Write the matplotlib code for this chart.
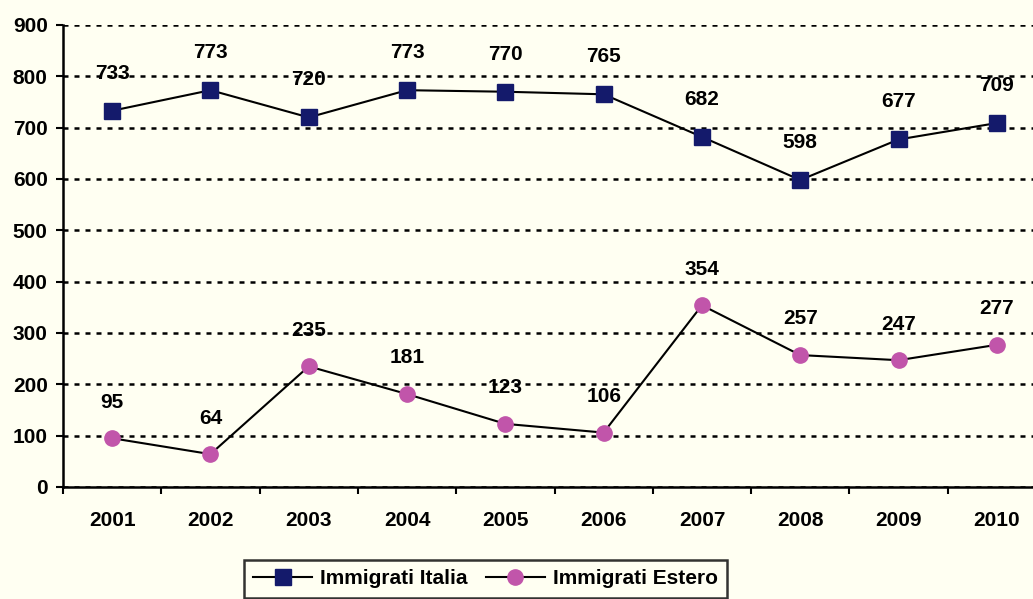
import matplotlib.pyplot as plt
import numpy as np

anni = ['2001', '2002', '2003', '2004', '2005', '2006', '2007', '2008', '2009', '2010']
immigrati_italia = [733, 773, 720, 773, 770, 765, 682, 598, 677, 709]
immigrati_estero = [95, 64, 235, 181, 123, 106, 354, 257, 247, 277]

plt.rcParams['font.family'] = ['Liberation Sans', 'DejaVu Sans']
plt.rcParams['font.weight'] = 'bold'

bg = '#FFFFF2'
fig = plt.figure(figsize=(10.33, 5.99), dpi=100, facecolor=bg)
# l'area del grafico sborda un po' a destra, come nell'originale
ax = fig.add_axes([63 / 1033, 1 - 487 / 599, 983 / 1033, 462 / 599], facecolor=bg)

x = np.arange(len(anni))
ax.plot(x, immigrati_italia, color='black', lw=1.5, marker='s', ms=12,
        mfc='#141A6B', mec='#141A6B', label='Immigrati Italia', zorder=3)
ax.plot(x, immigrati_estero, color='black', lw=1.5, marker='o', ms=11,
        mfc='#C155AA', mec='#C155AA', label='Immigrati Estero', zorder=3)

for xi, v in zip(x, immigrati_italia):
    ax.annotate(str(v), (xi, v), xytext=(0, 27), textcoords='offset points',
                ha='center', va='center', fontsize=15, fontweight='bold')
for xi, v in zip(x, immigrati_estero):
    ax.annotate(str(v), (xi, v), xytext=(0, 26), textcoords='offset points',
                ha='center', va='center', fontsize=15, fontweight='bold')

ax.set_xlim(-0.5, len(anni) - 0.5)
ax.set_ylim(0, 900)
ax.set_yticks(range(0, 901, 100))
ax.set_xticks(x)
ax.set_xticklabels(anni)
ax.set_xticks(np.arange(-0.5, len(anni), 1), minor=True)
ax.tick_params(axis='x', which='major', length=0, pad=17, labelsize=15)
ax.tick_params(axis='x', which='minor', length=5, width=1.5, direction='out')
ax.tick_params(axis='y', length=5, width=1.5, pad=6, labelsize=15)
for lab in ax.get_xticklabels() + ax.get_yticklabels():
    lab.set_fontweight('bold')

ax.yaxis.grid(True, color='black', linestyle=(0, (2, 2.4)), lw=1.8)
ax.set_axisbelow(True)
for s in ['top', 'right']:
    ax.spines[s].set_visible(False)
ax.spines['left'].set_linewidth(1.8)
ax.spines['bottom'].set_linewidth(1.8)

leg = fig.legend(loc='upper left', bbox_to_anchor=(244 / 1033, 1 - 560 / 599), ncol=2,
                 frameon=True, fancybox=False, edgecolor='black', facecolor=bg,
                 prop={'weight': 'bold', 'size': 15}, handlelength=2.8,
                 columnspacing=0.9, handletextpad=0.4, borderpad=0.45,
                 borderaxespad=0)
leg.get_frame().set_linewidth(1.8)
for h in leg.legend_handles:
    h.set_markersize(11)

fig.savefig('out.png', dpi=100, facecolor=bg)
